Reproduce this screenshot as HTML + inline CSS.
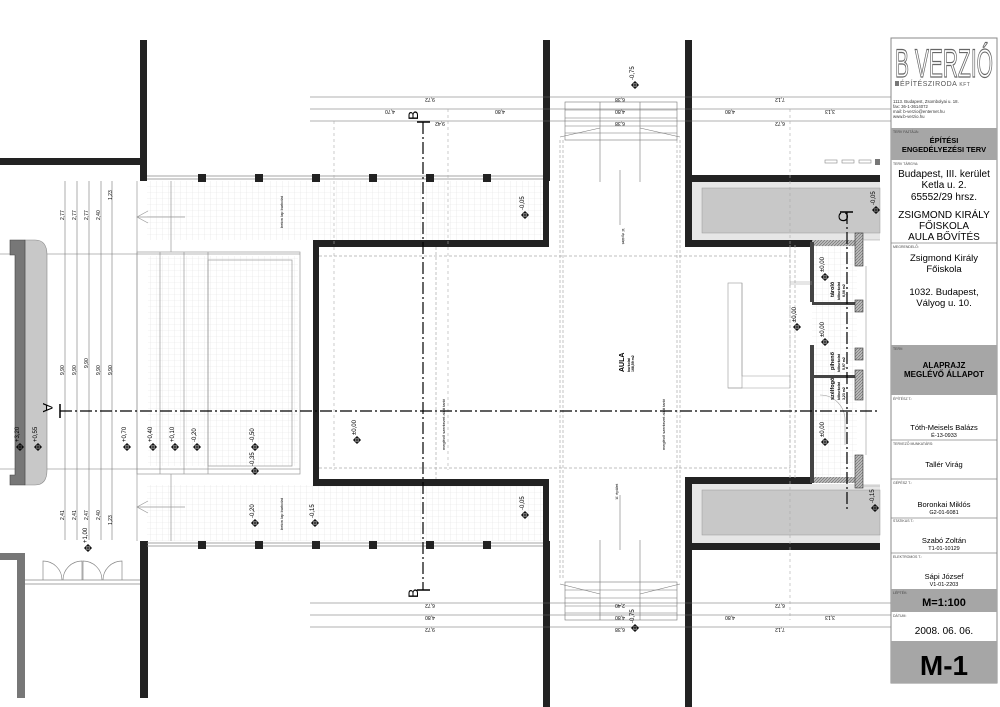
<!DOCTYPE html>
<html><head><meta charset="utf-8">
<style>
html,body{margin:0;padding:0;background:#fff;}
svg{display:block;font-family:"Liberation Sans",sans-serif;}
.t{font-family:"Liberation Sans",sans-serif;fill:#000;}
</style></head><body>
<svg width="1000" height="707" viewBox="0 0 1000 707" xmlns="http://www.w3.org/2000/svg">
<defs>
<pattern id="grid" width="6" height="6" patternUnits="userSpaceOnUse">
<path d="M6 0H0V6" fill="none" stroke="#e2e2e2" stroke-width="0.6"/>
</pattern>
<pattern id="hatch" width="3" height="3" patternUnits="userSpaceOnUse">
<rect width="3" height="3" fill="#bbb"/><path d="M0 3L3 0" stroke="#666" stroke-width="0.6"/>
</pattern>
</defs>

<rect x="147" y="181" width="166" height="59" fill="url(#grid)"/>
<rect x="147" y="485" width="166" height="56" fill="url(#grid)"/>
<rect x="313" y="181" width="232" height="59" fill="url(#grid)"/>
<rect x="313" y="485" width="232" height="56" fill="url(#grid)"/>
<rect x="148" y="256" width="150" height="210" fill="url(#grid)"/>
<rect x="812" y="245" width="45" height="235" fill="url(#grid)"/>

<g stroke="#999" stroke-width="0.7" fill="none">
<rect x="137" y="252" width="163" height="222"/>
<rect x="208" y="260" width="84" height="206"/>
<line x1="160" y1="252" x2="160" y2="474"/>
<line x1="184" y1="252" x2="184" y2="474"/>
<line x1="208" y1="252" x2="208" y2="474"/>
<line x1="137" y1="181" x2="137" y2="541"/>
<line x1="171" y1="181" x2="171" y2="252"/>
<line x1="171" y1="474" x2="171" y2="541"/>
<line x1="137" y1="217" x2="185" y2="217"/>
<line x1="137" y1="507" x2="185" y2="507"/>
<path d="M148 211 L137 217 L148 223"/>
<path d="M148 501 L137 507 L148 513"/>
</g>

<g stroke="#777" stroke-width="0.6">
<line x1="65" y1="181" x2="65" y2="540"/>
<line x1="77" y1="181" x2="77" y2="540"/>
<line x1="89" y1="181" x2="89" y2="540"/>
<line x1="101" y1="181" x2="101" y2="540"/>
<line x1="112" y1="181" x2="112" y2="540"/>
<line x1="0" y1="254" x2="300" y2="254"/>
<line x1="0" y1="469" x2="300" y2="469"/>
</g>
<g class="t" font-size="5" fill="#555">
<text transform="translate(64,220) rotate(-90)">2,77</text>
<text transform="translate(76,220) rotate(-90)">2,77</text>
<text transform="translate(88,220) rotate(-90)">2,77</text>
<text transform="translate(100,220) rotate(-90)">2,40</text>
<text transform="translate(112,200) rotate(-90)">1,23</text>
<text transform="translate(64,375) rotate(-90)">9,90</text>
<text transform="translate(76,375) rotate(-90)">9,90</text>
<text transform="translate(88,368) rotate(-90)">9,90</text>
<text transform="translate(100,375) rotate(-90)">9,90</text>
<text transform="translate(112,375) rotate(-90)">9,90</text>
<text transform="translate(64,520) rotate(-90)">2,41</text>
<text transform="translate(76,520) rotate(-90)">2,41</text>
<text transform="translate(88,520) rotate(-90)">2,47</text>
<text transform="translate(100,520) rotate(-90)">2,40</text>
<text transform="translate(112,525) rotate(-90)">1,23</text>
</g>

<path d="M25 240 H35 Q47 240 47 255 V470 Q47 485 35 485 H25Z" fill="#c8c8c8" stroke="#888" stroke-width="0.6"/>
<path d="M10 240 H25 V485 H10 V475 H15 V255 H10Z" fill="#777" stroke="#444" stroke-width="0.6"/>

<rect x="0" y="158" width="146" height="7" fill="#222"/>
<rect x="0" y="553" width="25" height="7" fill="#777"/>
<rect x="17" y="553" width="8" height="145" fill="#777"/>
<g stroke="#888" stroke-width="0.7" fill="none">
<line x1="25" y1="580" x2="140" y2="580"/>
<line x1="25" y1="584" x2="140" y2="584"/>
<path d="M43 580 V561 A19 19 0 0 1 62 580"/>
<path d="M82 580 V561 A19 19 0 0 0 63 580"/>
<path d="M83 580 V561 A19 19 0 0 1 102 580"/>
<path d="M122 580 V561 A19 19 0 0 0 103 580"/>
</g>

<g fill="#222">
<rect x="140" y="40" width="7" height="141"/>
<rect x="140" y="541" width="8" height="157"/>
<rect x="543" y="40" width="7" height="141"/>
<rect x="543" y="541" width="7" height="166"/>
<rect x="313" y="240" width="236" height="7"/>
<rect x="313" y="240" width="6" height="246"/>
<rect x="313" y="479" width="236" height="7"/>
<rect x="543" y="174" width="6" height="73"/>
<rect x="543" y="479" width="6" height="68"/>
<rect x="685" y="40" width="7" height="207"/>
<rect x="685" y="175" width="195" height="7"/>
<rect x="685" y="240" width="127" height="7"/>
<rect x="685" y="477" width="7" height="230"/>
<rect x="685" y="477" width="127" height="7"/>
<rect x="685" y="543" width="195" height="7"/>
</g>
<g stroke="#888" stroke-width="0.8">
<line x1="147" y1="176" x2="543" y2="176"/><line x1="147" y1="179" x2="543" y2="179"/>
<line x1="147" y1="543" x2="543" y2="543"/><line x1="147" y1="546" x2="543" y2="546"/>
</g>
<g fill="#222">
<rect x="198" y="174" width="8" height="8"/><rect x="255" y="174" width="8" height="8"/>
<rect x="312" y="174" width="8" height="8"/><rect x="369" y="174" width="8" height="8"/>
<rect x="426" y="174" width="8" height="8"/><rect x="483" y="174" width="8" height="8"/>
<rect x="198" y="541" width="8" height="8"/><rect x="255" y="541" width="8" height="8"/>
<rect x="312" y="541" width="8" height="8"/><rect x="369" y="541" width="8" height="8"/>
<rect x="426" y="541" width="8" height="8"/><rect x="483" y="541" width="8" height="8"/>
</g>

<rect x="692" y="182" width="188" height="58" fill="#e6e6e6"/>
<rect x="702" y="188" width="178" height="45" fill="#c8c8c8" stroke="#999" stroke-width="0.5"/>
<rect x="692" y="484" width="188" height="59" fill="#e6e6e6"/>
<rect x="702" y="490" width="178" height="45" fill="#c8c8c8" stroke="#999" stroke-width="0.5"/>
<g fill="none" stroke="#888" stroke-width="0.6">
<rect x="825" y="160" width="12" height="3"/><rect x="842" y="160" width="12" height="3"/><rect x="859" y="160" width="12" height="3"/>
</g>
<rect x="875" y="159" width="5" height="6" fill="#777"/>

<rect x="812" y="240" width="45" height="6" fill="url(#hatch)"/>
<rect x="812" y="477" width="45" height="6" fill="url(#hatch)"/>
<rect x="812" y="302" width="45" height="3" fill="#444"/>
<rect x="812" y="375" width="45" height="3" fill="#444"/>
<rect x="810" y="242" width="4" height="60" fill="#444"/>
<rect x="810" y="345" width="4" height="138" fill="#444"/>
<g fill="url(#hatch)" stroke="#333" stroke-width="0.6">
<rect x="855" y="233" width="8" height="33"/><rect x="855" y="300" width="8" height="12"/>
<rect x="855" y="348" width="8" height="12"/><rect x="855" y="370" width="8" height="30"/>
<rect x="855" y="455" width="8" height="33"/>
</g>
<g stroke="#999" stroke-width="0.6" fill="none">
<line x1="863" y1="240" x2="880" y2="240"/><line x1="863" y1="486" x2="880" y2="486"/>
<line x1="866" y1="266" x2="866" y2="455"/>
<rect x="728" y="283" width="14" height="105"/>
<path d="M742 283 V376 H790 V388 H728"/>
<line x1="790" y1="282" x2="812" y2="282"/><line x1="790" y1="284" x2="812" y2="284"/>
<path d="M820 395 A25 25 0 0 1 845 420 V445"/>
</g>

<g stroke="#aaa" stroke-width="0.7" fill="none" stroke-dasharray="3 2">
<line x1="560" y1="140" x2="560" y2="580"/><line x1="563" y1="140" x2="563" y2="580"/>
<line x1="677" y1="140" x2="677" y2="580"/><line x1="680" y1="140" x2="680" y2="580"/>
<line x1="319" y1="256" x2="790" y2="256"/>
<line x1="319" y1="468" x2="790" y2="468"/>
<line x1="436" y1="247" x2="436" y2="479"/>
<line x1="795" y1="245" x2="795" y2="480"/>
<line x1="790" y1="245" x2="790" y2="480"/>
</g>
<g stroke="#777" stroke-width="0.6" fill="none">
<rect x="565" y="102" width="112" height="38"/>
<line x1="565" y1="110" x2="677" y2="110"/><line x1="565" y1="118" x2="677" y2="118"/>
<line x1="565" y1="126" x2="677" y2="126"/><line x1="565" y1="133" x2="677" y2="133"/>
<line x1="600" y1="102" x2="600" y2="182"/><line x1="640" y1="102" x2="640" y2="182"/>
<path d="M560 137 L600 128 M680 137 L640 128"/>
<rect x="565" y="582" width="112" height="38"/>
<line x1="565" y1="590" x2="677" y2="590"/><line x1="565" y1="598" x2="677" y2="598"/>
<line x1="565" y1="606" x2="677" y2="606"/><line x1="565" y1="613" x2="677" y2="613"/>
<line x1="600" y1="540" x2="600" y2="620"/><line x1="640" y1="540" x2="640" y2="620"/>
<path d="M560 584 L600 594 M680 584 L640 594"/>
<line x1="620" y1="170" x2="620" y2="225"/>
<line x1="620" y1="495" x2="620" y2="550"/>
</g>

<g stroke="#666" stroke-width="0.6">
<line x1="310" y1="97" x2="975" y2="97"/><line x1="310" y1="109" x2="975" y2="109"/><line x1="310" y1="121" x2="975" y2="121"/>
<line x1="310" y1="603" x2="975" y2="603"/><line x1="310" y1="615" x2="975" y2="615"/><line x1="310" y1="627" x2="975" y2="627"/>
<line x1="334" y1="121" x2="334" y2="470" stroke-dasharray="3 3" stroke="#aaa"/>
<line x1="448" y1="109" x2="448" y2="470" stroke-dasharray="3 3" stroke="#aaa"/>
<line x1="790" y1="109" x2="790" y2="620" stroke-dasharray="3 3" stroke="#aaa"/>
</g>
<g class="t" font-size="5" fill="#555" text-anchor="middle">
<text x="430" y="102" transform="rotate(180 430 100)">9,72</text>
<text x="390" y="114" transform="rotate(180 390 112)">4,70</text>
<text x="500" y="114" transform="rotate(180 500 112)">4,80</text>
<text x="440" y="126" transform="rotate(180 440 124)">9,42</text>
<text x="620" y="102" transform="rotate(180 620 100)">6,38</text>
<text x="620" y="114" transform="rotate(180 620 112)">4,80</text>
<text x="620" y="126" transform="rotate(180 620 124)">6,38</text>
<text x="780" y="102" transform="rotate(180 780 100)">7,12</text>
<text x="730" y="114" transform="rotate(180 730 112)">4,80</text>
<text x="830" y="114" transform="rotate(180 830 112)">3,13</text>
<text x="780" y="126" transform="rotate(180 780 124)">6,72</text>
<text x="430" y="608" transform="rotate(180 430 606)">6,72</text>
<text x="430" y="620" transform="rotate(180 430 618)">4,80</text>
<text x="430" y="632" transform="rotate(180 430 630)">9,72</text>
<text x="620" y="608" transform="rotate(180 620 606)">2,40</text>
<text x="620" y="620" transform="rotate(180 620 618)">4,80</text>
<text x="620" y="632" transform="rotate(180 620 630)">6,38</text>
<text x="780" y="608" transform="rotate(180 780 606)">6,72</text>
<text x="730" y="620" transform="rotate(180 730 618)">4,80</text>
<text x="830" y="620" transform="rotate(180 830 618)">3,13</text>
<text x="780" y="632" transform="rotate(180 780 630)">7,12</text>
</g>

<g stroke="#000" stroke-width="1.2" stroke-dasharray="12 3 2 3" fill="none">
<line x1="60" y1="411" x2="880" y2="411"/>
<line x1="423" y1="122" x2="423" y2="590"/>
<line x1="847" y1="212" x2="847" y2="510"/>
</g>
<g stroke="#000" stroke-width="1.5">
<line x1="60" y1="404" x2="60" y2="418"/>
<line x1="417" y1="122" x2="430" y2="122"/>
<line x1="417" y1="590" x2="430" y2="590"/>
<line x1="840" y1="212" x2="853" y2="212"/>
</g>
<g class="t" font-size="14">
<text transform="translate(43,403) rotate(90)">A</text>
<text transform="translate(418,120) rotate(-90)">B</text>
<text transform="translate(418,598) rotate(-90)">B</text>
<text transform="translate(848,222) rotate(-90)">C</text>
</g>

<g font-size="6" class="t">
<g transform="translate(20,447)"><text transform="translate(-1,-5) rotate(-90)">+3,20</text></g>
<g transform="translate(38,447)"><text transform="translate(-1,-5) rotate(-90)">+0,55</text></g>
<g transform="translate(127,447)"><text transform="translate(-1,-5) rotate(-90)">+0,70</text></g>
<g transform="translate(153,447)"><text transform="translate(-1,-5) rotate(-90)">+0,40</text></g>
<g transform="translate(175,447)"><text transform="translate(-1,-5) rotate(-90)">+0,10</text></g>
<g transform="translate(197,447)"><text transform="translate(-1,-5) rotate(-90)">-0,20</text></g>
<g transform="translate(255,447)"><text transform="translate(-1,-5) rotate(-90)">-0,50</text></g>
<g transform="translate(255,471)"><text transform="translate(-1,-5) rotate(-90)">-0,35</text></g>
<g transform="translate(255,523)"><text transform="translate(-1,-5) rotate(-90)">-0,20</text></g>
<g transform="translate(315,523)"><text transform="translate(-1,-5) rotate(-90)">-0,15</text></g>
<g transform="translate(88,548)"><text transform="translate(-1,-5) rotate(-90)">+1,00</text></g>
<g transform="translate(525,215)"><text transform="translate(-1,-5) rotate(-90)">-0,05</text></g>
<g transform="translate(525,515)"><text transform="translate(-1,-5) rotate(-90)">-0,05</text></g>
<g transform="translate(357,440)"><text transform="translate(-1,-5) rotate(-90)">±0,00</text></g>
<g transform="translate(635,85)"><text transform="translate(-1,-5) rotate(-90)">-0,75</text></g>
<g transform="translate(635,628)"><text transform="translate(-1,-5) rotate(-90)">-0,75</text></g>
<g transform="translate(797,327)"><text transform="translate(-1,-5) rotate(-90)">±0,00</text></g>
<g transform="translate(825,277)"><text transform="translate(-1,-5) rotate(-90)">±0,00</text></g>
<g transform="translate(825,342)"><text transform="translate(-1,-5) rotate(-90)">±0,00</text></g>
<g transform="translate(825,442)"><text transform="translate(-1,-5) rotate(-90)">±0,00</text></g>
<g transform="translate(876,210)"><text transform="translate(-1,-5) rotate(-90)">-0,05</text></g>
<g transform="translate(875,508)"><text transform="translate(-1,-5) rotate(-90)">-0,15</text></g>
</g>
<g stroke="#000" stroke-width="1" fill="none">
<g id="mk"><circle cx="20" cy="447" r="2.5"/><path d="M16 447h8M20 443v8"/></g>
<use href="#mk" x="18"/><use href="#mk" x="107"/><use href="#mk" x="133"/><use href="#mk" x="155"/>
<use href="#mk" x="177"/><use href="#mk" x="235"/><use href="#mk" x="235" y="24"/><use href="#mk" x="235" y="76"/>
<use href="#mk" x="295" y="76"/><use href="#mk" x="68" y="101"/><use href="#mk" x="505" y="-232"/><use href="#mk" x="505" y="68"/>
<use href="#mk" x="337" y="-7"/><use href="#mk" x="615" y="-362"/><use href="#mk" x="615" y="181"/>
<use href="#mk" x="777" y="-120"/><use href="#mk" x="805" y="-170"/><use href="#mk" x="805" y="-105"/><use href="#mk" x="805" y="-5"/>
<use href="#mk" x="856" y="-237"/><use href="#mk" x="855" y="61"/>
</g>

<g class="t" fill="#a01010" font-weight="bold">
<text transform="translate(624,372) rotate(-90)" font-size="7">AULA</text>
<text transform="translate(630,372) rotate(-90)" font-size="3.5">burkolat</text>
<text transform="translate(634,372) rotate(-90)" font-size="3.5">168,59 m2</text>
<text transform="translate(834,297) rotate(-90)" font-size="5.5">tároló</text>
<text transform="translate(840,300) rotate(-90)" font-size="3.5">kőburkolat</text>
<text transform="translate(845,297) rotate(-90)" font-size="3.5">6,06 m2</text>
<text transform="translate(834,370) rotate(-90)" font-size="5.5">pihenő</text>
<text transform="translate(840,372) rotate(-90)" font-size="3.5">kőburkolat</text>
<text transform="translate(845,370) rotate(-90)" font-size="3.5">5,97 m2</text>
<text transform="translate(834,400) rotate(-90)" font-size="5.5">szélfogó</text>
<text transform="translate(840,400) rotate(-90)" font-size="3.5">kőburkolat</text>
<text transform="translate(845,400) rotate(-90)" font-size="3.5">3,23 m2</text>
</g>
<g class="t" font-size="4" fill="#333">
<text transform="translate(283,228) rotate(-90)">beton lap burkolat</text>
<text transform="translate(283,530) rotate(-90)">beton lap burkolat</text>
<text transform="translate(622,228) rotate(90)">'A' épület</text>
<text transform="translate(618,500) rotate(-90)">'A' épület</text>
<text transform="translate(445,450) rotate(-90)">meglévő szerkezet   alatt tartó</text>
<text transform="translate(665,450) rotate(-90)">meglévő szerkezet   alatt tartó</text>
</g>

<g font-family="Liberation Sans, sans-serif">
<rect x="891" y="38" width="106" height="645" fill="#fff" stroke="#888" stroke-width="1"/>
<rect x="891" y="128" width="106" height="32" fill="#a6a6a6"/>
<rect x="891" y="345" width="106" height="50" fill="#a6a6a6"/>
<rect x="891" y="589" width="106" height="23" fill="#a6a6a6"/>
<rect x="891" y="641" width="106" height="42" fill="#a6a6a6"/>
<g stroke="#888" stroke-width="0.8">
<line x1="891" y1="243" x2="997" y2="243"/>
<line x1="891" y1="440" x2="997" y2="440"/>
<line x1="891" y1="479" x2="997" y2="479"/>
<line x1="891" y1="518" x2="997" y2="518"/>
<line x1="891" y1="553" x2="997" y2="553"/>
</g>
<text x="895" y="77" font-size="40" fill="#fff" stroke="#666" stroke-width="1.2" textLength="98" lengthAdjust="spacingAndGlyphs" font-family="Liberation Sans Narrow, Liberation Sans, sans-serif">B VERZIÓ</text>
<rect x="895" y="81" width="4" height="5" fill="#777"/>
<text x="900" y="86" font-size="7" fill="#555" letter-spacing="0.5">ÉPÍTÉSZIRODA <tspan font-size="5">KFT</tspan></text>
<g font-size="4.3" fill="#333">
<text x="893" y="103">1113. Budapest, Zsombolyai u. 18.</text>
<text x="893" y="108">fax: 36-1-3614072</text>
<text x="893" y="113">mail: b-verzio@enternet.hu</text>
<text x="893" y="118">www.b-verzio.hu</text>
</g>
<g font-size="3.5" fill="#444">
<text x="893" y="133">TERV FAJTÁJA:</text>
<text x="893" y="165">TERV TÁRGYA:</text>
<text x="893" y="248">MEGRENDELŐ:</text>
<text x="893" y="350">TERV:</text>
<text x="893" y="400">ÉPÍTÉSZ T.:</text>
<text x="893" y="445">TERVEZŐ MUNKATÁRS:</text>
<text x="893" y="484">GÉPÉSZ T.:</text>
<text x="893" y="522">STATIKUS T.:</text>
<text x="893" y="558">ELEKTROMOS T.:</text>
<text x="893" y="594">LÉPTÉK:</text>
<text x="893" y="617">DÁTUM:</text>
</g>
<g text-anchor="middle" fill="#000">
<text x="944" y="143" font-size="7.5" font-weight="bold">ÉPÍTÉSI</text>
<text x="944" y="152" font-size="7.5" font-weight="bold">ENGEDÉLYEZÉSI TERV</text>
<text x="944" y="177" font-size="10">Budapest, III. kerület</text>
<text x="944" y="188" font-size="10">Ketla u. 2.</text>
<text x="944" y="200" font-size="10">65552/29 hrsz.</text>
<text x="944" y="218" font-size="10">ZSIGMOND KIRÁLY</text>
<text x="944" y="229" font-size="10">FŐISKOLA</text>
<text x="944" y="240" font-size="10">AULA BŐVÍTÉS</text>
<text x="944" y="261" font-size="9.5">Zsigmond Király</text>
<text x="944" y="272" font-size="9.5">Főiskola</text>
<text x="944" y="295" font-size="9.5">1032.  Budapest,</text>
<text x="944" y="306" font-size="9.5">Vályog u. 10.</text>
<text x="944" y="368" font-size="8" font-weight="bold">ALAPRAJZ</text>
<text x="944" y="377" font-size="8" font-weight="bold">MEGLÉVŐ ÁLLAPOT</text>
<text x="944" y="430" font-size="7.5">Tóth-Meisels Balázs</text>
<text x="944" y="437" font-size="5.5">É-13-0933</text>
<text x="944" y="467" font-size="7.5">Tallér Virág</text>
<text x="944" y="507" font-size="7.5">Boronkai Miklós</text>
<text x="944" y="514" font-size="5.5">G2-01-6081</text>
<text x="944" y="543" font-size="7.5">Szabó Zoltán</text>
<text x="944" y="550" font-size="5.5">T1-01-10129</text>
<text x="944" y="579" font-size="7.5">Sápi József</text>
<text x="944" y="586" font-size="5.5">V1-01-2203</text>
<text x="944" y="606" font-size="11" font-weight="bold">M=1:100</text>
<text x="944" y="634" font-size="10">2008. 06. 06.</text>
<text x="944" y="675" font-size="28" font-weight="bold">M-1</text>
</g>
</g>
</svg>
</body></html>
